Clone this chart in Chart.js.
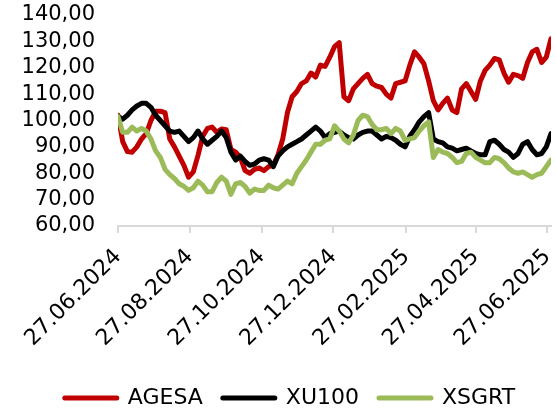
<!DOCTYPE html>
<html>
<head>
<meta charset="utf-8">
<script src="https://cdn.jsdelivr.net/npm/chart.js@4.4.1/dist/chart.umd.min.js"></script>
<style>
  body { margin: 0; background: #fff; }
</style>
</head>
<body>
<canvas id="perfChart" width="556" height="414"></canvas>
<script>
// one point every 4 calendar days starting 27.06.2024
const STEP_DAYS = 4;

const agesa = [
  102, 92, 88.2, 88, 90, 93, 95, 100, 103.5, 103.5,
  103, 93, 90, 86.5, 83, 78.5, 80.5, 86.8, 94, 97,
  97.5, 95.5, 96.8, 96.5, 89, 88, 86, 81, 80, 81.5,
  82, 81, 82.5, 83, 87, 93, 103, 109, 111, 114,
  115, 118, 116.5, 121, 120.5, 124, 128, 129.5, 109, 107.5,
  112, 114, 116, 117.5, 114, 113, 112.5, 110, 108.5, 114,
  114.5, 115, 121, 126, 124, 121.5, 115, 107.5, 104, 106.5,
  108.5, 104, 103, 112, 114, 111, 108, 115, 119, 121,
  123.5, 123, 118, 114.5, 117.5, 117, 116, 122, 126, 127,
  122, 124, 131,
];

const xu100 = [
  101.5, 100.5, 102, 104, 105.5, 106.5, 106.5, 105, 102, 100,
  98, 96, 95.5, 96, 94, 92, 93.5, 96, 93, 91,
  92.5, 94, 96, 93.5, 88, 85, 86.5, 84.5, 83, 83.5,
  85, 85.5, 85, 82.5, 86.5, 88.5, 90, 91, 92, 93,
  94.5, 96, 97.5, 96, 93.5, 95, 95.5, 96, 94.5, 93.5,
  93, 94.5, 95.5, 96, 96, 94.5, 93, 94, 93.5, 92.5,
  91, 90, 94, 96.5, 99.5, 101.5, 103, 93, 92, 91.5,
  90, 89.5, 88.5, 89, 89.5, 88.5, 87.5, 87, 87, 92,
  92.5, 91, 89, 88, 86, 87.5, 91, 92, 89, 87,
  87.5, 90, 95,
];

const xsgrt = [
  101.5, 95.5, 95.5, 97.5, 96, 97, 96, 93, 88.5, 86,
  81.5, 79.5, 78, 76, 75, 73.5, 74.5, 77, 75.5, 73,
  73, 76.5, 78.5, 77, 72, 76, 76.5, 75, 72.5, 74,
  73.5, 73.5, 75.5, 74.5, 74, 75.5, 77, 76, 80, 82.5,
  85, 88, 91, 91, 92.5, 93, 98, 96, 93, 91.5,
  94.5, 100, 102, 101.5, 98.5, 96.5, 96.5, 97, 95, 97,
  96, 92.5, 93, 93.5, 96, 98, 99.5, 86, 89, 88,
  87.5, 86, 84, 84.5, 87.5, 88, 86, 85, 84, 84,
  86, 85.5, 84, 82, 80.5, 80, 80.5, 79.5, 78.5, 79.5,
  80, 82.5, 85,
];

// x ticks every two months, in days from the first date
const xTickDays = [0, 61, 122, 183, 245, 304, 365];
const xTickLabels = [
  "27.06.2024",
  "27.08.2024",
  "27.10.2024",
  "27.12.2024",
  "27.02.2025",
  "27.04.2025",
  "27.06.2025",
];

const toPoints = (values) =>
  values.map((v, i) => ({ x: i * STEP_DAYS, y: v }));

Chart.defaults.font.family = "'DejaVu Sans', sans-serif";
Chart.defaults.font.size = 22;
Chart.defaults.color = "#000";

// push the legend a bit right, it sits centred under the plot
const legendShift = {
  id: "legendShift",
  afterLayout(chart) {
    chart.legend.left += 29;
  },
};

const ctx = document.getElementById("perfChart");

new Chart(ctx, {
  type: "line",
  data: {
    datasets: [
      {
        label: "AGESA",
        data: toPoints(agesa),
        borderColor: "#c00000",
        backgroundColor: "#c00000",
        order: 3,
      },
      {
        label: "XU100",
        data: toPoints(xu100),
        borderColor: "#000000",
        backgroundColor: "#000000",
        order: 2,
      },
      {
        label: "XSGRT",
        data: toPoints(xsgrt),
        borderColor: "#9bbb59",
        backgroundColor: "#9bbb59",
        order: 1,
      },
    ],
  },
  plugins: [legendShift],
  options: {
    responsive: false,
    animation: false,
    layout: {
      padding: { left: 0, right: 5, top: 15, bottom: -5 },
    },
    elements: {
      point: { radius: 0, hoverRadius: 0 },
      line: {
        borderWidth: 5,
        tension: 0,
        borderJoinStyle: "round",
        borderCapStyle: "round",
      },
    },
    scales: {
      x: {
        type: "linear",
        min: 0,
        max: 368,
        afterBuildTicks: (axis) => {
          axis.ticks = xTickDays.map((d) => ({ value: d }));
        },
        afterFit: (axis) => {
          axis.height = 141;
          axis.paddingLeft = 0;
          axis.paddingRight = 0;
        },
        ticks: {
          autoSkip: false,
          minRotation: 45,
          maxRotation: 45,
          padding: 11,
          callback: (value, index) => xTickLabels[index],
        },
        grid: {
          drawOnChartArea: false,
          color: "#d9d9d9",
          lineWidth: 2,
          tickLength: 7,
        },
        border: {
          color: "#d9d9d9",
          width: 2,
        },
      },
      y: {
        min: 60,
        max: 140,
        afterFit: (axis) => {
          axis.width = 118;
          axis.paddingTop = 0;
          axis.paddingBottom = 0;
        },
        ticks: {
          stepSize: 10,
          autoSkip: false,
          padding: 23,
          font: { size: 21, lineHeight: 1 },
          callback: (value) => value.toFixed(2).replace(".", ","),
        },
        grid: {
          display: false,
          drawTicks: false,
        },
        border: {
          display: false,
        },
      },
    },
    plugins: {
      tooltip: { enabled: false },
      legend: {
        position: "bottom",
        labels: {
          usePointStyle: true,
          pointStyle: "line",
          pointStyleWidth: 52,
          padding: 20,
          sort: (a, b) => a.datasetIndex - b.datasetIndex,
          generateLabels: (chart) =>
            Chart.defaults.plugins.legend.labels
              .generateLabels(chart)
              .map((item) => ({ ...item, lineWidth: 5, lineCap: "round" })),
        },
      },
    },
  },
});
</script>
</body>
</html>
